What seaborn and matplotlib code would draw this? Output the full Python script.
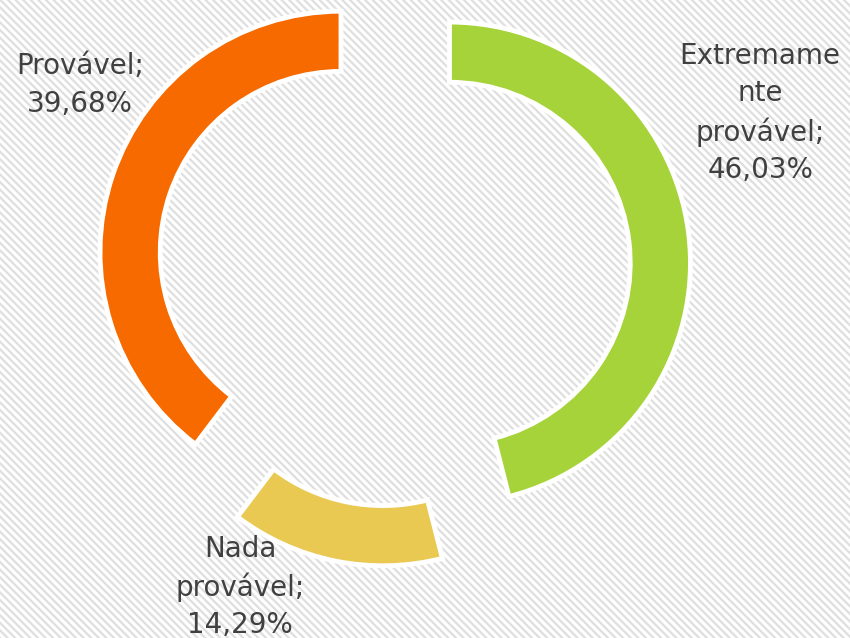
import numpy as np
import matplotlib
matplotlib.use("Agg")
import matplotlib.pyplot as plt
import seaborn as sns

categories = ["Extremamente provável", "Nada provável", "Provável"]
values = [46.03, 14.29, 39.68]
label_texts = ["Extremame\nnte\nprovável;\n46,03%", "Nada\nprovável;\n14,29%", "Provável;\n39,68%"]
colors = ["#A7D33A", "#E9C952", "#F66A00"]

sns.set_style("white")
plt.rcParams['font.family'] = ['DejaVu Sans']

W, H = 850, 638
fig = plt.figure(figsize=(W / 100, H / 100), dpi=100)
fig.patch.set_facecolor("white")

# striped background
bg = fig.add_axes([0, 0, 1, 1])
bg.set_xlim(0, W)
bg.set_ylim(0, H)
bg.axis("off")
step = 7.6
for c in np.arange(0, W + H + step, step):
    bg.plot([c - H - 10, c + 10], [H + 10, -10], color="#dfdfdf", lw=1.6,
            solid_capstyle="butt")

ax = fig.add_axes([0, 0, 1, 1])
ax.set_facecolor("none")
R_px = 241.0
cx, cy = 394.0, 270.0

explode = [0.232] * len(values)
ax.pie(values, colors=colors, startangle=90, counterclock=False,
       explode=explode, radius=1.0,
       wedgeprops=dict(width=0.25, edgecolor="white", linewidth=3.5))
ax.set_aspect("auto")
ax.set_xlim(-cx / R_px, (W - cx) / R_px)
ax.set_ylim(-(H - cy) / R_px, cy / R_px)
ax.axis("off")

label_pos = [(1.519, 0.651), (-0.639, -1.315), (-1.303, 0.768)]
for txt, (x, y) in zip(label_texts, label_pos):
    ax.text(x, y, txt, ha="center", va="center", fontsize=20,
            color="#404040", linespacing=1.42)

fig.savefig("out.png", dpi=100, facecolor="white")
